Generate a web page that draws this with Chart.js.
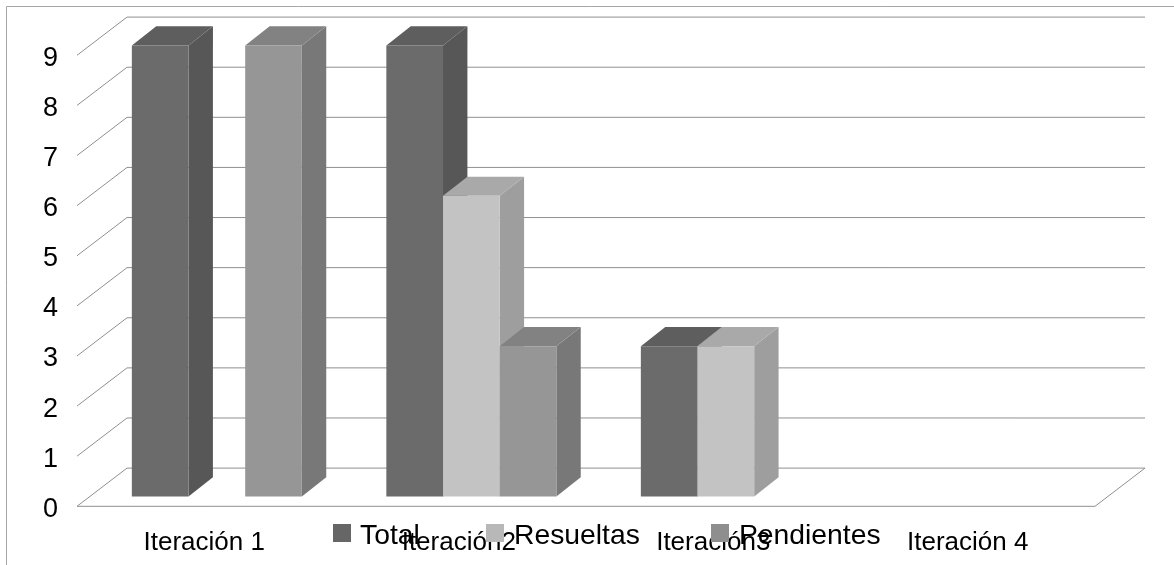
<!DOCTYPE html>
<html>
<head>
<meta charset="utf-8">
<style>
  html, body { margin: 0; padding: 0; background: #fff; }
  canvas { display: block; }
</style>
</head>
<body>
<canvas id="myChart" width="1174" height="565"></canvas>
<script src="https://cdn.jsdelivr.net/npm/chart.js@4/dist/chart.umd.min.js"></script>
<script>
const categories = ["Iteración 1", "Iteración2", "Iteración3", "Iteración 4"];
const total = [9, 9, 3, 0];
const resueltas = [0, 6, 3, 0];
const pendientes = [9, 3, 0, 0];
const yTicks = [0, 1, 2, 3, 4, 5, 6, 7, 8, 9];

const FONT = "'Liberation Sans', Arial, sans-serif";
const GRID = "#8f8f8f";
// depth of the floor and of the bars, in pixels
const WALL = { dx: 50, dy: -38.2 };
const BAR_OFFSET = { dx: 12.6, dy: -9.8 };
const BAR_DEPTH = { dx: 24.4, dy: -19.2 };
const LEGEND_X = [333, 486, 711];
const LEGEND_TEXT_X = [360, 514, 739];

function line(ctx, pts) {
    ctx.beginPath();
    pts.forEach((p, i) => i ? ctx.lineTo(p[0], p[1]) : ctx.moveTo(p[0], p[1]));
    ctx.stroke();
}

function poly(ctx, pts, color) {
    ctx.fillStyle = color;
    ctx.beginPath();
    pts.forEach((p, i) => i ? ctx.lineTo(p[0], p[1]) : ctx.moveTo(p[0], p[1]));
    ctx.closePath();
    ctx.fill();
}

const box3d = {
    id: "box3d",
    beforeDraw(chart) {
        // outer frame, open on the right and at the bottom
        const ctx = chart.ctx;
        ctx.save();
        ctx.strokeStyle = "#a6a6a6";
        ctx.lineWidth = 1;
        line(ctx, [[6.5, 565], [6.5, 6.5], [1174, 6.5]]);
        ctx.restore();
    },
    beforeDatasetsDraw(chart) {
        const ctx = chart.ctx;
        const { left, right, bottom } = chart.chartArea;
        const y = chart.scales.y;
        ctx.save();
        ctx.strokeStyle = GRID;
        ctx.lineWidth = 1;
        yTicks.forEach(v => {
            const py = y.getPixelForValue(v);
            line(ctx, [[left, py], [left + WALL.dx, py + WALL.dy], [right + WALL.dx, py + WALL.dy]]);
        });
        line(ctx, [[left, bottom], [right, bottom], [right + WALL.dx, bottom + WALL.dy]]);
        ctx.restore();

        // Chart.js paints the last dataset first, here each series has to cover the one before it
        ctx.save();
        ctx.translate(BAR_OFFSET.dx, BAR_OFFSET.dy);
        chart.data.datasets.forEach((ds, n) => {
            const meta = chart.getDatasetMeta(n);
            meta.data.forEach((bar, i) => {
                if (!ds.data[i]) return;
                const p = bar.getProps(["x", "y", "base", "width"], true);
                const l = p.x - p.width / 2;
                const r = p.x + p.width / 2;
                const d = BAR_DEPTH;
                poly(ctx, [[r, p.y], [r + d.dx, p.y + d.dy], [r + d.dx, p.base + d.dy], [r, p.base]], ds.sideColor);
                poly(ctx, [[l, p.y], [l + d.dx, p.y + d.dy], [r + d.dx, p.y + d.dy], [r, p.y]], ds.topColor);
            });
            meta.controller.draw();
        });
        ctx.restore();
        return false;
    },
    afterDraw(chart) {
        const ctx = chart.ctx;
        ctx.save();
        ctx.font = "28.3px " + FONT;
        ctx.textBaseline = "alphabetic";
        chart.data.datasets.forEach((ds, i) => {
            ctx.fillStyle = ds.legendColor;
            ctx.fillRect(LEGEND_X[i], 524, 18, 18);
            ctx.fillStyle = "#000";
            ctx.fillText(ds.label, LEGEND_TEXT_X[i], 544);
        });
        ctx.restore();
    }
};

new Chart("myChart", {
    type: "bar",
    data: {
        labels: categories,
        datasets: [
            { label: "Total", data: total, backgroundColor: "#6b6b6b", sideColor: "#575757", topColor: "#5e5e5e", legendColor: "#666666" },
            { label: "Resueltas", data: resueltas, backgroundColor: "#c3c3c3", sideColor: "#9e9e9e", topColor: "#a9a9a9", legendColor: "#b8b8b8" },
            { label: "Pendientes", data: pendientes, backgroundColor: "#969696", sideColor: "#787878", topColor: "#828282", legendColor: "#8e8e8e" }
        ]
    },
    options: {
        responsive: false,
        animation: false,
        categoryPercentage: 0.668,
        barPercentage: 1,
        layout: { padding: { top: 55.3, right: 79, left: 0, bottom: 0 } },
        plugins: {
            legend: { display: false },
            tooltip: { enabled: false }
        },
        scales: {
            x: {
                grid: { display: false },
                border: { display: false },
                ticks: { color: "#000", font: { family: FONT, size: 26 }, padding: 13, maxRotation: 0, autoSkip: false },
                afterFit(s) { s.height = 58.7; }
            },
            y: {
                min: 0,
                max: 9,
                grid: { display: false },
                border: { display: false },
                ticks: { color: "#000", font: { family: FONT, size: 27 }, padding: 11, stepSize: 1, labelOffset: 3 },
                afterFit(s) { s.width = 77; }
            }
        }
    },
    plugins: [box3d]
});
</script>
</body>
</html>
